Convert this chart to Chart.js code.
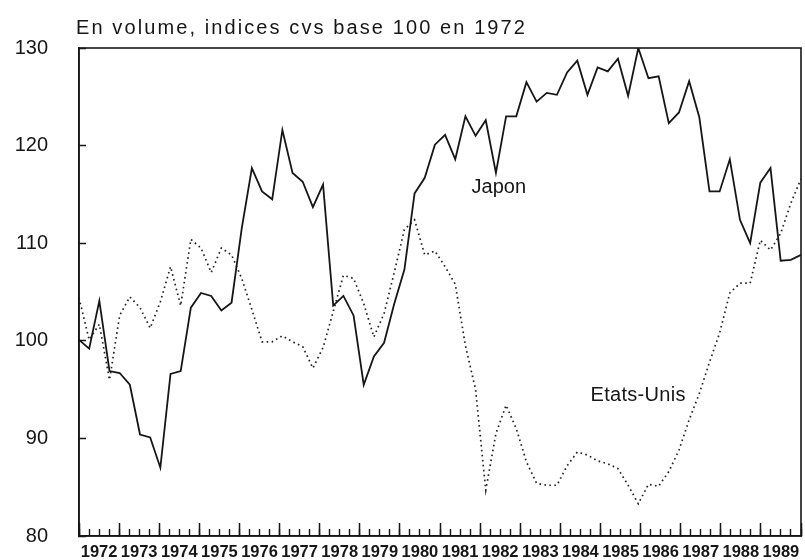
<!DOCTYPE html>
<html>
<head>
<meta charset="utf-8">
<script src="https://cdn.jsdelivr.net/npm/chart.js@4.4.1/dist/chart.umd.min.js"></script>
<style>
html,body{margin:0;padding:0;background:#fff;}
#wrap{width:805px;height:560px;}
</style>
</head>
<body>
<div id="wrap"><canvas id="c" width="805" height="560"></canvas></div>
<script>
// ---- data ----
const years = ['1972','1973','1974','1975','1976','1977','1978','1979','1980',
               '1981','1982','1983','1984','1985','1986','1987','1988','1989'];
const quarterNames = ['T1','T2','T3','T4'];
const japon = [100.1, 99.2, 104.1, 96.9, 96.7, 95.5, 90.4, 90.1, 87.0, 96.6,
               96.9, 103.4, 104.9, 104.6, 103.1, 103.9, 111.5, 117.7, 115.3, 114.5,
               121.6, 117.2, 116.3, 113.7, 116.0, 103.6, 104.6, 102.6, 95.5, 98.4,
               99.8, 103.8, 107.3, 115.1, 116.7, 120.1, 121.1, 118.6, 123.0, 121.0,
               122.6, 117.2, 123.0, 123.0, 126.5, 124.5, 125.4, 125.2, 127.5, 128.7,
               125.2, 128.0, 127.6, 128.9, 125.1, 130.0, 126.9, 127.1, 122.3, 123.4,
               126.6, 122.9, 115.3, 115.3, 118.6, 112.4, 110.0, 116.2, 117.7, 108.2,
               108.3, 108.8];
const etatsUnis = [104.4, 100.1, 101.7, 96.0, 102.6, 104.5, 103.4, 101.3, 104.0, 107.6,
                   103.6, 110.4, 109.5, 107.0, 109.5, 108.8, 106.4, 103.2, 99.9, 99.9,
                   100.5, 99.9, 99.4, 97.2, 99.3, 103.0, 106.7, 106.4, 103.8, 100.4,
                   102.8, 107.0, 111.4, 112.4, 108.8, 109.2, 107.6, 105.8, 99.5, 95.0,
                   84.7, 90.5, 93.4, 91.0, 87.6, 85.4, 85.2, 85.2, 87.2, 88.6,
                   88.3, 87.7, 87.4, 86.9, 85.2, 83.3, 85.3, 85.1, 86.6, 88.8,
                   91.9, 94.6, 97.8, 100.8, 104.9, 105.9, 105.9, 110.3, 109.3, 111.0,
                   114.1, 116.6];
const yMin = 80, yMax = 130, yStep = 10;
const titleText = 'En volume, indices cvs base 100 en 1972';
const seriesNames = ['Japon', 'Etats-Unis'];

// categories built from the years
const quarters = [];
years.forEach(y => quarterNames.forEach(q => quarters.push(y + q)));

// ---- styling / placement ----
const ink = '#161616';
const labelAnchors = [
  { text: seriesNames[0], at: 38.6, value: 115.7, spacing: 0 },
  { text: seriesNames[1], at: 50.3, value: 94.4, spacing: 0.3 }
];

const decor = {
  id: 'decor',
  afterDraw(chart) {
    const { ctx, chartArea, scales } = chart;
    ctx.save();
    ctx.strokeStyle = ink;
    ctx.lineWidth = 1.6;
    ctx.strokeRect(chartArea.left, chartArea.top,
                   chartArea.right - chartArea.left, chartArea.bottom - chartArea.top);
    ctx.fillStyle = ink;
    ctx.textBaseline = 'middle';
    ctx.textAlign = 'left';
    ctx.font = '20px "Liberation Sans", Arial, sans-serif';
    if ('letterSpacing' in ctx) ctx.letterSpacing = '2.1px';
    ctx.fillText(titleText, chartArea.left - 3, chartArea.top - 20);
    labelAnchors.forEach(l => {
      if ('letterSpacing' in ctx) ctx.letterSpacing = l.spacing + 'px';
      ctx.fillText(l.text, scales.x.getPixelForValue(l.at), scales.y.getPixelForValue(l.value));
    });
    ctx.restore();
  }
};

function noPad(s) { s.paddingLeft = 0; s.paddingRight = 0; s.paddingTop = 0; s.paddingBottom = 0; }

new Chart(document.getElementById('c'), {
  type: 'line',
  data: {
    labels: quarters,
    datasets: [
      {
        label: seriesNames[0],
        data: japon,
        borderColor: ink,
        borderWidth: 1.8,
        pointRadius: 0,
        tension: 0,
        fill: false,
        xAxisID: 'x',
        yAxisID: 'y'
      },
      {
        label: seriesNames[1],
        data: etatsUnis,
        borderColor: '#222',
        borderWidth: 1.7,
        borderDash: [1.6, 3.4],
        pointRadius: 0,
        tension: 0,
        fill: false,
        xAxisID: 'x',
        yAxisID: 'y'
      }
    ]
  },
  options: {
    responsive: false,
    animation: false,
    devicePixelRatio: 1,
    layout: { padding: { left: 0, right: 4, top: 48, bottom: 0 } },
    plugins: {
      legend: { display: false },
      title: { display: false },
      tooltip: { enabled: false }
    },
    scales: {
      x: {
        type: 'category',
        display: false,
        offset: false
      },
      xq: {
        type: 'category',
        axis: 'x',
        labels: quarters,
        offset: true,
        position: { y: yMin },
        grid: {
          offset: true,
          drawOnChartArea: false,
          drawTicks: true,
          tickLength: -7,
          tickWidth: 1.4,
          tickColor: ink
        },
        border: { display: false },
        ticks: { display: false, autoSkip: false },
        afterFit: noPad
      },
      xy: {
        type: 'category',
        axis: 'x',
        labels: years,
        offset: true,
        position: 'bottom',
        grid: {
          offset: true,
          drawOnChartArea: false,
          drawTicks: true,
          tickLength: -13,
          tickWidth: 1.5,
          tickColor: ink
        },
        border: { display: true, width: 1.6, color: ink },
        ticks: {
          autoSkip: false,
          maxRotation: 0,
          minRotation: 0,
          padding: 19.5,
          color: ink,
          font: { family: '"Liberation Sans", Arial, sans-serif', size: 16.5, weight: 'bold', lineHeight: 1.2 }
        },
        afterFit: s => { s.height = 24; noPad(s); }
      },
      y: {
        type: 'linear',
        position: 'left',
        min: yMin,
        max: yMax,
        grid: {
          drawOnChartArea: false,
          drawTicks: true,
          tickLength: -7,
          tickWidth: 1.5,
          tickColor: ink
        },
        border: { display: true, width: 1.6, color: ink },
        ticks: {
          stepSize: yStep,
          padding: 38,
          color: ink,
          font: { family: '"Liberation Sans", Arial, sans-serif', size: 20 }
        },
        afterFit: s => { s.width = 79; noPad(s); }
      }
    }
  },
  plugins: [decor]
});
</script>
</body>
</html>
